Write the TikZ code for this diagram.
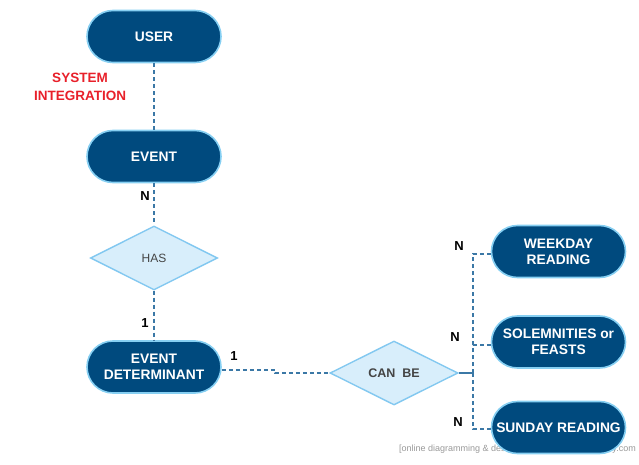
\documentclass[tikz,border=0pt]{standalone}
\usepackage{fontspec}
\setmainfont{Liberation Sans}
\usetikzlibrary{shapes.geometric}
\definecolor{nodefill}{HTML}{004A7E}
\definecolor{nodeedge}{HTML}{86CFF2}
\definecolor{diafill}{HTML}{D8EEFB}
\definecolor{diaedge}{HTML}{82C8F0}
\definecolor{conn}{HTML}{3B78A6}
\definecolor{redlbl}{HTML}{E8202A}
\definecolor{diatext}{HTML}{444444}
\tikzset{
  entity/.style={draw=nodeedge, line width=1.6pt, fill=nodefill, rounded corners=26pt,
    minimum width=134pt, minimum height=52pt, text=white, font=\bfseries\fontsize{13.8}{16}\selectfont,
    align=center, inner sep=0pt},
  relation/.style={diamond, draw=diaedge, line width=1.4pt, fill=diafill, aspect=2,
    text=diatext, font=\fontsize{12}{14}\selectfont, inner sep=0pt},
  link/.style={draw=conn, line width=1.2pt, dash pattern=on 4pt off 3pt},
  solidlink/.style={draw=conn, line width=1.2pt},
  card/.style={font=\bfseries\fontsize{13}{15}\selectfont, text=black, inner sep=0pt},
}
\begin{document}
\begin{tikzpicture}[x=1pt,y=-1pt]
\useasboundingbox (0,0) rectangle (639,465);
% watermark
\node[anchor=west, text=gray!80, font=\fontsize{9}{10}\selectfont, inner sep=0pt] (wm1) at (399,449) {[online diagramming \& design]};
\node[anchor=east, text=gray!80, font=\fontsize{9}{10}\selectfont, inner sep=0pt] (wm2) at (636,449) {creately.com};

% entities
\node[entity] (user) at (154,36.5) {USER};
\node[entity] (event) at (154,156.5) {EVENT};
\node[entity] (ed) at (154,367) {EVENT\\DETERMINANT};
\node[entity] (week) at (558.5,251.5) {WEEKDAY\\READING};
\node[entity] (sol) at (558.5,342) {SOLEMNITIES or\\FEASTS};
\node[entity] (sun) at (558.5,427.5) {SUNDAY READING};

% relations
\node[relation, minimum width=127pt, minimum height=64pt] (has) at (154,258) {HAS};
\node[relation, minimum width=128pt, minimum height=64pt, font=\bfseries\fontsize{12.5}{14}\selectfont] (canbe) at (394,373) {CAN\ \ BE};

% connectors
\draw[link] (user) -- (event);
\draw[link] (event) -- (has);
\draw[link] (has) -- (ed);
\coordinate (j1) at (275,370);
\coordinate (j2) at (275,373);
\draw[link] (ed.east |- j1) -- (j1) -- (j2) -- (canbe.west);
\coordinate (br) at (473,373);
\draw[solidlink] (canbe.east) -- (br);
\coordinate (bw) at (473,254);
\coordinate (bs) at (473,345);
\coordinate (bu) at (473,429);
\draw[link] (br) -- (bw) -- (week.west |- bw);
\draw[link] (br) -- (bs) -- (sol.west |- bs);
\draw[link] (br) -- (bu) -- (sun.west |- bu);

% labels
\node[text=redlbl, font=\bfseries\fontsize{13.5}{18}\selectfont, align=center] (sys) at (80,87) {SYSTEM\\INTEGRATION};
\node[card] (n1) at (145,196) {N};
\node[card] (o1) at (145,323) {1};
\node[card] (o2) at (234,356) {1};
\node[card] (n2) at (459,246) {N};
\node[card] (n3) at (455,337) {N};
\node[card] (n4) at (458,422) {N};
\end{tikzpicture}
\end{document}
